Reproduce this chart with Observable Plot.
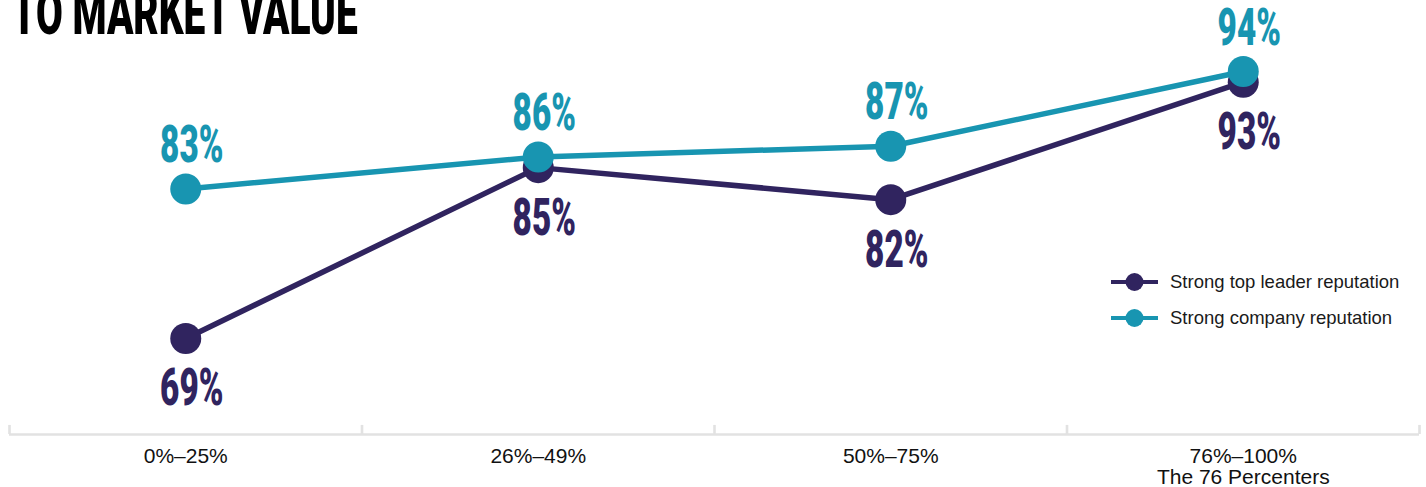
<!DOCTYPE html>
<html>
<head>
<meta charset="utf-8">
<script src="https://cdn.jsdelivr.net/npm/d3@7"></script>
<script src="https://cdn.jsdelivr.net/npm/@observablehq/plot@0.6"></script>
<style>
  html, body { margin: 0; padding: 0; background: #fff; overflow: hidden; }
  #wrap { position: relative; width: 1426px; height: 487px; overflow: hidden; }
  #title { position: absolute; left: 12px; top: 0; font-family: Roboto, "Liberation Sans", sans-serif; font-weight: 900; font-size: 62px; line-height: 62px; color: #000; white-space: nowrap; transform-origin: 0 0; letter-spacing: 0; }
  #legend { position: absolute; left: 1111px; top: 264px; font-family: "Liberation Sans", Arial, sans-serif; font-size: 18.5px; color: #1a1a1a; }
  .row { display: flex; align-items: center; height: 36px; }
  .row svg { margin-right: 12px; }
</style>
</head>
<body>
<div id="wrap">
  <div id="chart"></div>
  <div id="title">TO MARKET VALUE</div>
  <div id="legend"></div>
</div>
<script>
const categories = ["0%–25%", "26%–49%", "50%–75%", "76%–100%\nThe 76 Percenters"];
const leaderValues = [69, 85, 82, 93];
const companyValues = [83, 86, 87, 94];
const seriesNames = ["Strong top leader reputation", "Strong company reputation"];
const seriesColors = ["#30245f", "#1895b1"];
const boundaries = [0, 1, 2, 3, 4];

const rows = categories.map((c, i) => ({cat: c, pos: i + 0.5, leader: leaderValues[i], company: companyValues[i]}));
const [dark, teal] = seriesColors;
const labelFont = "Roboto, 'Liberation Sans', sans-serif";

const plot = Plot.plot({
  width: 1426,
  height: 487,
  marginLeft: 9,
  marginRight: 7,
  marginTop: 7,
  marginBottom: 53,
  x: {type: "linear", domain: [0, 4], axis: null},
  y: {domain: [60, 100], axis: null},
  style: {fontFamily: "'Liberation Sans', Arial, sans-serif", background: "white", overflow: "visible"},
  marks: [
    Plot.ruleY([60], {stroke: "#e2e2e2", strokeWidth: 2.6}),
    Plot.ruleX(boundaries, {x: d => d, y1: 60, y2: 60.85, stroke: "#e2e2e2", strokeWidth: 2.6}),
    Plot.text(rows, {x: "pos", y: 60, text: "cat", lineAnchor: "top", dy: 14, fontSize: 21, lineHeight: 1.0, fill: "#111"}),
    Plot.line(rows, {x: "pos", y: "leader", stroke: dark, strokeWidth: 5.5}),
    Plot.dot(rows, {x: "pos", y: "leader", r: 15.5, fill: dark}),
    Plot.line(rows, {x: "pos", y: "company", stroke: teal, strokeWidth: 5.5}),
    Plot.dot(rows, {x: "pos", y: "company", r: 15.5, fill: teal}),
    Plot.text(rows, {x: "pos", y: "company", text: d => d.company + "%", lineAnchor: "bottom", dx: 6, dy: -27, fontSize: 52, fontWeight: 900, fontFamily: labelFont, fill: teal}),
    Plot.text(rows, {x: "pos", y: "leader", text: d => d.leader + "%", lineAnchor: "top", dx: 6, dy: 30, fontSize: 52, fontWeight: 900, fontFamily: labelFont, fill: dark})
  ]
});
document.getElementById("chart").appendChild(plot);

// condense the big value labels
plot.querySelectorAll("text").forEach(t => {
  if (!/^\d+%$/.test(t.textContent.trim())) return;
  const tr = t.getAttribute("transform");
  if (tr) t.setAttribute("transform", tr + " scale(0.64,1)");
  else {
    const x = +t.getAttribute("x") || 0, y = +t.getAttribute("y") || 0;
    t.removeAttribute("x"); t.removeAttribute("y");
    t.setAttribute("transform", `translate(${x},${y}) scale(0.64,1)`);
  }
});

// title: fit width and place baseline
const title = document.getElementById("title");
const tw = title.scrollWidth;
title.style.transform = `scaleX(${346 / tw})`;
title.style.top = "-18px";

// legend
const legend = document.getElementById("legend");
seriesNames.forEach((name, i) => {
  const row = document.createElement("div");
  row.className = "row";
  row.innerHTML = `<svg width="47" height="20"><line x1="0" x2="47" y1="10" y2="10" stroke="${seriesColors[i]}" stroke-width="4"/><circle cx="23.5" cy="10" r="9" fill="${seriesColors[i]}"/></svg><span>${name}</span>`;
  legend.appendChild(row);
});
</script>
</body>
</html>
